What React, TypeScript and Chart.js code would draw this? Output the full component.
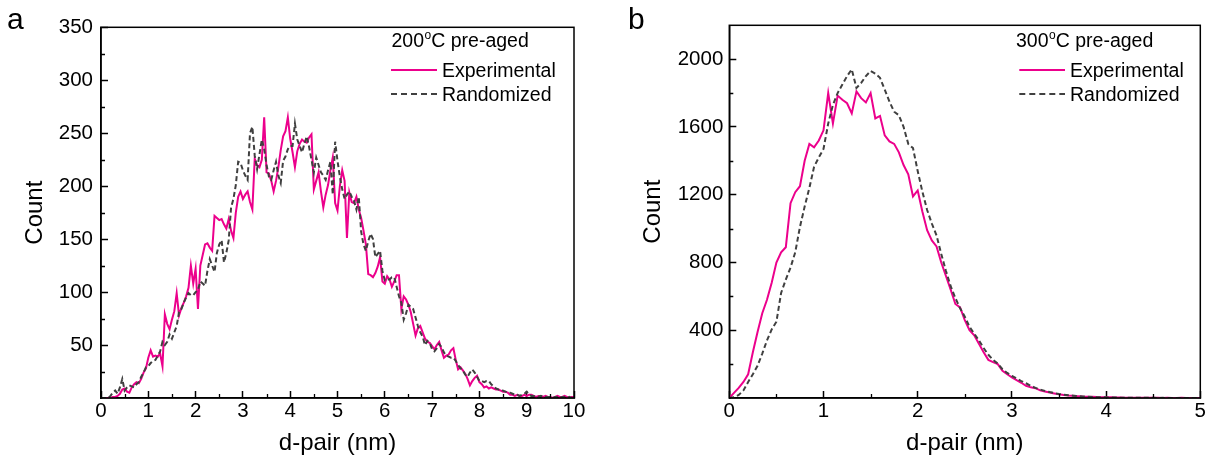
import React, { useEffect, useRef } from "react";
import { Chart, registerables } from "chart.js";

Chart.register(...registerables);

const FONT = '"Liberation Sans", Arial, Helvetica, sans-serif';
const PINK = "#EC008C";
const GREY = "#404040";

// ---------- Panel a (200 °C pre-aged), bins of 0.05 nm from 0 to 10 nm ----------
const binWidthA = 0.05;
const experimentalA = [
  0, 0, 0, 0, 0, 1, 1, 2, 4, 8, 9, 6, 5, 10, 13, 15, 14, 18, 24, 28,
  38, 45, 39, 40, 39, 42, 30, 79, 70, 65, 74, 82, 99, 78, 85, 90, 96, 104, 125, 108,
  122, 84, 125, 135, 145, 146, 142, 139, 172, 170, 168, 169, 164, 160, 169, 158, 151, 175, 190, 195,
  188, 192, 195, 185, 178, 226, 220, 218, 225, 265, 213, 212, 205, 195, 205, 218, 234, 247, 252, 265,
  245, 232, 218, 233, 240, 244, 242, 241, 246, 249, 197, 205, 213, 195, 180, 192, 201, 215, 227, 184,
  177, 200, 215, 205, 151, 194, 185, 184, 190, 178, 170, 158, 145, 117, 116, 114, 118, 124, 133, 110,
  108, 115, 112, 105, 110, 116, 116, 84, 96, 93, 88, 81, 70, 59, 66, 68, 62, 56, 53, 52,
  49, 46, 50, 53, 45, 38, 40, 41, 45, 47, 36, 27, 29, 26, 23, 18, 12, 16, 19, 21,
  15, 13, 10, 11, 9, 10, 9, 8, 8, 7, 6, 6, 5, 3, 3, 2, 3, 2, 2, 3,
  2, 3, 3, 2, 1, 2, 2, 1, 2, 1, 1, 0, 1, 2, 1, 1, 2, 1, 0, 1,
  1,
];
const randomizedA = [
  0, 0, 0, 0, 2, 5, 7, 4, 10, 18, 7, 10, 12, 11, 10, 13, 15, 20, 24, 29,
  30, 33, 35, 36, 40, 44, 53, 50, 53, 60, 56, 62, 68, 81, 84, 90, 95, 99, 97, 97,
  100, 102, 110, 108, 106, 120, 131, 125, 119, 137, 145, 149, 128, 137, 149, 180, 188, 201, 223, 222,
  215, 210, 206, 250, 256, 229, 216, 230, 244, 235, 220, 209, 206, 215, 223, 210, 203, 224, 228, 235,
  238, 238, 259, 244, 238, 232, 240, 247, 237, 225, 213, 227, 220, 213, 210, 206, 215, 223, 192, 242,
  224, 209, 197, 188, 192, 195, 190, 186, 178, 190, 157, 145, 139, 148, 155, 150, 133, 136, 139, 120,
  111, 112, 112, 114, 114, 105, 96, 90, 74, 80, 88, 86, 84, 76, 68, 62, 58, 50, 54, 52,
  46, 44, 47, 51, 48, 43, 40, 39, 38, 38, 35, 31, 28, 26, 22, 20, 24, 27, 24, 20,
  16, 16, 15, 16, 16, 13, 11, 9, 8, 8, 7, 6, 5, 5, 4, 3, 3, 2, 3, 4,
  6, 3, 2, 2, 2, 1, 2, 1, 1, 1, 1, 0, 1, 1, 0, 1, 1, 0, 1, 0,
  0,
];
const xTicksA = [0, 1, 2, 3, 4, 5, 6, 7, 8, 9, 10];
const xMinorA = [0.5, 1.5, 2.5, 3.5, 4.5, 5.5, 6.5, 7.5, 8.5, 9.5];
const yTicksA = [50, 100, 150, 200, 250, 300, 350];
const yMinorA = [25, 75, 125, 175, 225, 275, 325];

// ---------- Panel b (300 °C pre-aged), bins of 0.05 nm from 0 to 5 nm ----------
const binWidthB = 0.05;
const experimentalB = [
  0, 30, 60, 95, 140, 270, 390, 500, 580, 680, 800, 860, 890, 1150, 1215, 1250, 1400, 1500, 1480, 1520,
  1580, 1800, 1620, 1785, 1760, 1740, 1680, 1810, 1770, 1745, 1800, 1650, 1665, 1550, 1515, 1500, 1450, 1375, 1320, 1190,
  1225, 1100, 990, 930, 895, 800, 720, 640, 555, 535, 460, 400, 370, 320, 270, 225, 212, 200, 160, 140,
  122, 105, 90, 72, 63, 58, 45, 38, 32, 27, 22, 18, 15, 13, 11, 9, 8, 7, 6, 5,
  4, 4, 3, 3, 2, 2, 2, 1, 1, 1, 1, 1, 0, 1, 0, 0, 1, 0, 0, 0,
  0,
];
const randomizedB = [
  0, 5, 18, 45, 94, 140, 190, 262, 340, 405, 450, 620, 699, 770, 860, 1010, 1130, 1240, 1365, 1420,
  1470, 1620, 1730, 1800, 1850, 1900, 1940, 1830, 1860, 1900, 1930, 1915, 1890, 1820, 1750, 1690, 1669, 1600, 1500, 1475,
  1340, 1217, 1110, 1030, 960, 850, 750, 660, 590, 530, 480, 420, 380, 340, 295, 255, 225, 203, 170, 148,
  130, 115, 100, 87, 72, 60, 50, 42, 35, 29, 24, 20, 16, 14, 11, 9, 8, 6, 5, 5,
  4, 3, 3, 2, 2, 2, 1, 1, 1, 1, 1, 0, 1, 0, 0, 0, 0, 0, 0, 0,
  0,
];
const xTicksB = [0, 1, 2, 3, 4, 5];
const xMinorB = [0.5, 1.5, 2.5, 3.5, 4.5];
const yTicksB = [400, 800, 1200, 1600, 2000];
const yMinorB = [200, 600, 1000, 1400, 1800];

const toPoints = (vals: number[], bw: number) => vals.map((y, i) => ({ x: +(i * bw).toFixed(2), y }));

const framePlugin = {
  id: "frame",
  afterDraw(chart: any, _args: any, o: any) {
    const { ctx, chartArea: a, scales } = chart;
    ctx.save();
    // box
    ctx.strokeStyle = "#000";
    ctx.lineWidth = 1.5;
    ctx.setLineDash([]);
    ctx.strokeRect(a.left, a.top, a.right - a.left, a.bottom - a.top);
    // minor ticks
    ctx.lineWidth = 1.3;
    ctx.beginPath();
    for (const v of o.xMinor) {
      const px = Math.round(scales.x.getPixelForValue(v)) + 0.5;
      ctx.moveTo(px, a.bottom);
      ctx.lineTo(px, a.bottom - 4);
    }
    for (const v of o.yMinor) {
      const py = Math.round(scales.y.getPixelForValue(v)) + 0.5;
      ctx.moveTo(a.left, py);
      ctx.lineTo(a.left + 4, py);
    }
    ctx.stroke();

    // panel letter
    ctx.fillStyle = "#000";
    ctx.textBaseline = "alphabetic";
    ctx.textAlign = "left";
    ctx.font = `30px ${FONT}`;
    ctx.fillText(o.letter, o.letterX, o.letterY);

    // legend title with superscript
    ctx.font = `19.5px ${FONT}`;
    let x = o.legX;
    ctx.fillText(o.temp, x, 47);
    x += ctx.measureText(o.temp).width;
    ctx.font = `12px ${FONT}`;
    ctx.fillText("o", x + 0.5, 39);
    x += ctx.measureText("o").width + 0.5;
    ctx.font = `19.5px ${FONT}`;
    ctx.fillText("C pre-aged", x, 47);

    // legend entries
    ctx.lineWidth = 2;
    ctx.strokeStyle = PINK;
    ctx.beginPath();
    ctx.moveTo(o.lineX1, 70);
    ctx.lineTo(o.lineX2, 70);
    ctx.stroke();
    ctx.strokeStyle = GREY;
    ctx.setLineDash([6, 4]);
    ctx.beginPath();
    ctx.moveTo(o.lineX1, 94);
    ctx.lineTo(o.lineX2, 94);
    ctx.stroke();
    ctx.setLineDash([]);
    ctx.fillText("Experimental", o.textX, 77);
    ctx.fillText("Randomized", o.textX, 101);
    ctx.restore();
  },
};

type PanelProps = {
  left: number;
  width: number;
  cfg: any;
};

function Panel({ left, width, cfg }: PanelProps) {
  const ref = useRef<HTMLCanvasElement | null>(null);
  useEffect(() => {
    if (!ref.current) return;
    const chart = new Chart(ref.current, cfg);
    return () => chart.destroy();
  }, []);
  return (
    <canvas
      ref={ref}
      width={width}
      height={463}
      style={{ position: "absolute", left, top: 0, width, height: 463 }}
    />
  );
}

function makeConfig(p: any) {
  const tickFont = { family: FONT, size: 20.5 };
  const titleFont = { family: FONT, size: 24 };
  return {
    type: "line",
    data: {
      datasets: [
        {
          label: "Randomized",
          data: toPoints(p.rand, p.bw),
          borderColor: GREY,
          borderWidth: 2,
          borderDash: [5, 3],
          pointRadius: 0,
          tension: 0,
          fill: false,
        },
        {
          label: "Experimental",
          data: toPoints(p.exp, p.bw),
          borderColor: PINK,
          borderWidth: 2,
          pointRadius: 0,
          tension: 0,
          fill: false,
        },
      ],
    },
    plugins: [framePlugin],
    options: {
      responsive: false,
      animation: false,
      devicePixelRatio: 1,
      parsing: false,
      layout: { padding: { left: 0, right: p.padRight, top: 16, bottom: 0 }, autoPadding: false },
      plugins: {
        legend: { display: false },
        tooltip: { enabled: false },
        frame: p.frame,
      },
      scales: {
        x: {
          type: "linear",
          min: 0,
          max: p.xMax,
          afterBuildTicks: (s: any) => {
            s.ticks = p.xTicks.map((v: number) => ({ value: v }));
          },
          afterFit: (s: any) => {
            s.height = 65;
          },
          ticks: {
            font: tickFont,
            color: "#000",
            padding: 8,
            maxRotation: 0,
            autoSkip: false,
            callback: (v: any) => String(v),
          },
          grid: {
            display: true,
            drawOnChartArea: false,
            drawTicks: true,
            tickLength: -7,
            tickColor: "#000",
            tickWidth: 1.5,
          },
          border: { display: true, color: "#000", width: 1.5 },
          title: {
            display: true,
            text: "d-pair (nm)",
            font: titleFont,
            color: "#000",
            padding: { top: 0, bottom: 5 },
          },
        },
        y: {
          type: "linear",
          min: 0,
          max: p.yMax,
          afterBuildTicks: (s: any) => {
            s.ticks = p.yTicks.map((v: number) => ({ value: v }));
          },
          afterFit: (s: any) => {
            s.width = p.yWidth;
          },
          ticks: {
            font: tickFont,
            color: "#000",
            padding: p.yPad,
            autoSkip: false,
            callback: (v: any) => String(v),
          },
          grid: {
            display: true,
            drawOnChartArea: false,
            drawTicks: true,
            tickLength: -7,
            tickColor: "#000",
            tickWidth: 1.5,
          },
          border: { display: true, color: "#000", width: 1.5 },
          title: {
            display: true,
            text: "Count",
            font: titleFont,
            color: "#000",
            padding: { top: p.yTitlePad, bottom: 0 },
          },
        },
      },
    },
  };
}

const cfgA = makeConfig({
  exp: experimentalA,
  rand: randomizedA,
  bw: binWidthA,
  xMax: 10,
  yMax: 350,
  xTicks: xTicksA,
  yTicks: yTicksA,
  yWidth: 101,
  padRight: 33,
  yPad: 15,
  yTitlePad: 21,
  frame: {
    xMinor: xMinorA,
    yMinor: yMinorA,
    letter: "a",
    letterX: 7,
    letterY: 29,
    temp: "200",
    legX: 391.5,
    lineX1: 391,
    lineX2: 437,
    textX: 442,
  },
});

const cfgB = makeConfig({
  exp: experimentalB,
  rand: randomizedB,
  bw: binWidthB,
  xMax: 5,
  yMax: 2200,
  xTicks: xTicksB,
  yTicks: yTicksB,
  yWidth: 122.3,
  padRight: 11.3,
  yPad: 13,
  yTitlePad: 32,
  frame: {
    xMinor: xMinorB,
    yMinor: yMinorB,
    letter: "b",
    letterX: 21,
    letterY: 29,
    temp: "300",
    legX: 409,
    lineX1: 412.3,
    lineX2: 458,
    textX: 463,
  },
});

export default function App() {
  return (
    <div
      style={{
        position: "fixed",
        left: 0,
        top: 0,
        width: 1214,
        height: 463,
        background: "#fff",
        overflow: "hidden",
      }}
    >
      <Panel left={0} width={607} cfg={cfgA} />
      <Panel left={607} width={607} cfg={cfgB} />
    </div>
  );
}
